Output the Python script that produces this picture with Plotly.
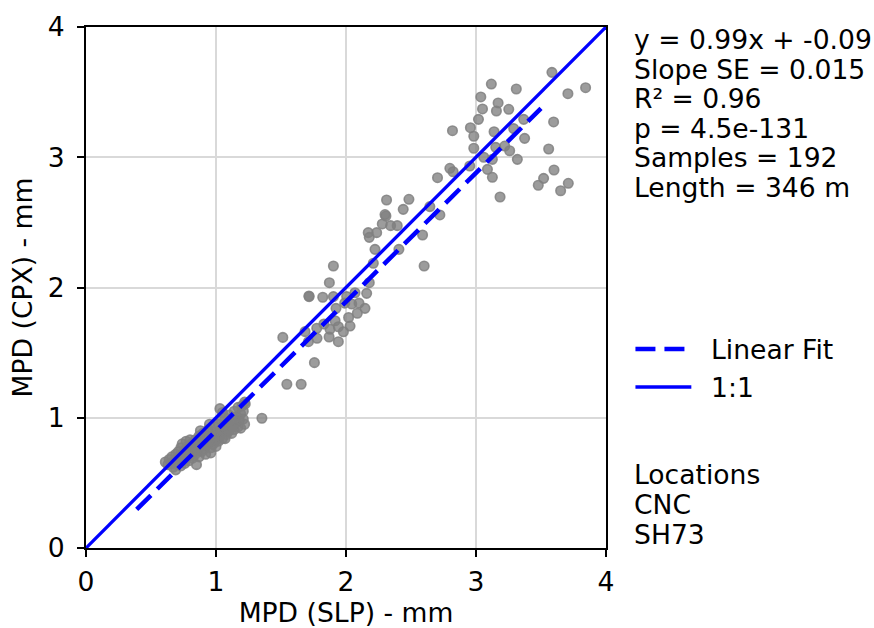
import plotly.graph_objects as go

# ---------------- data ----------------
slp_upper = [3.584, 3.118, 3.310, 3.843, 3.707, 3.037, 3.170, 3.050, 3.157, 3.252,
             3.019, 3.367, 3.597, 2.819, 2.957, 2.983, 3.139, 3.374, 2.983, 3.152,
             3.221, 3.259, 3.559, 3.126, 3.318, 2.952, 2.799, 2.824, 3.088, 2.704,
             3.126, 3.600, 3.520, 3.479, 3.710, 3.651, 2.484, 3.185, 2.440, 2.645,
             3.29, 3.06]
cpx_upper = [3.652, 3.562, 3.524, 3.534, 3.488, 3.463, 3.417, 3.371, 3.355, 3.368,
             3.291, 3.291, 3.271, 3.204, 3.227, 3.161, 3.196, 3.145, 3.069, 3.076,
             3.086, 3.050, 3.063, 2.984, 2.984, 2.933, 2.915, 2.889, 2.907, 2.843,
             2.846, 2.902, 2.838, 2.785, 2.800, 2.743, 2.677, 2.695, 2.600, 2.621,
             3.22, 3.00]

slp_mid = [2.312, 2.307, 2.279, 2.343, 2.394, 2.722, 2.171, 2.236, 2.179, 2.589,
           2.223, 2.407, 1.903, 2.601, 2.210, 1.872, 2.179, 1.716, 1.821, 1.903,
           2.069, 2.159, 2.044, 1.923, 2.146, 2.087, 1.916, 2.031, 1.941, 1.775,
           1.514, 1.777, 1.711, 1.941, 1.545, 1.655, 1.757, 1.877, 1.685, 1.353,
           1.225, 2.30, 1.715, 2.005, 1.99, 1.87, 1.98, 2.02, 1.83, 2.10]
cpx_mid = [2.672, 2.549, 2.488, 2.475, 2.475, 2.557, 2.421, 2.421, 2.385, 2.403,
           2.293, 2.293, 2.165, 2.165, 2.186, 2.037, 2.037, 1.930, 1.925, 1.930,
           1.960, 1.955, 1.873, 1.840, 1.840, 1.802, 1.745, 1.704, 1.699, 1.687,
           1.617, 1.610, 1.584, 1.584, 1.257, 1.257, 1.423, 1.679, 1.661, 0.996,
           1.106, 2.56, 1.935, 1.93, 1.88, 1.62, 1.66, 1.77, 1.72, 1.88]

slp_low = [0.61, 0.63, 0.64, 0.66, 0.66, 0.67, 0.68, 0.69, 0.70, 0.70,
           0.71, 0.72, 0.72, 0.73, 0.73, 0.74, 0.74, 0.75, 0.76, 0.76,
           0.77, 0.77, 0.78, 0.78, 0.79, 0.80, 0.80, 0.81, 0.82, 0.82,
           0.83, 0.84, 0.84, 0.85, 0.85, 0.86, 0.87, 0.87, 0.88, 0.88,
           0.89, 0.90, 0.90, 0.91, 0.92, 0.92, 0.93, 0.94, 0.94, 0.95,
           0.96, 0.96, 0.97, 0.97, 0.98, 0.99, 0.99, 1.00, 1.00, 1.01,
           1.02, 1.02, 1.03, 1.04, 1.04, 1.05, 1.05, 1.06, 1.06, 1.07,
           1.08, 1.08, 1.09, 1.10, 1.10, 1.11, 1.12, 1.12, 1.13, 1.14,
           1.15, 1.16, 1.17, 1.17, 1.18, 1.19, 1.19, 1.20, 1.21, 1.21,
           1.22, 1.22, 1.03, 0.95, 0.88, 0.80, 0.75, 0.69, 1.14, 1.07]
cpx_low = [0.66, 0.64, 0.68, 0.65, 0.70, 0.62, 0.67, 0.72, 0.64, 0.69,
           0.74, 0.66, 0.71, 0.63, 0.77, 0.68, 0.80, 0.72, 0.65, 0.75,
           0.69, 0.82, 0.73, 0.78, 0.67, 0.71, 0.76, 0.80, 0.74, 0.69,
           0.77, 0.72, 0.83, 0.64, 0.79, 0.75, 0.70, 0.86, 0.78, 0.82,
           0.74, 0.80, 0.88, 0.76, 0.83, 0.72, 0.79, 0.86, 0.91, 0.81,
           0.73, 0.77, 0.84, 0.89, 0.80, 0.86, 0.93, 0.78, 0.83, 0.88,
           0.95, 0.82, 0.86, 0.91, 0.98, 0.84, 1.04, 0.89, 0.94, 1.00,
           0.87, 0.92, 0.97, 0.90, 1.02, 0.94, 0.99, 0.88, 0.93, 1.05,
           0.96, 1.01, 0.93, 1.08, 0.98, 1.03, 0.92, 1.09, 0.99, 1.05,
           0.95, 1.12, 1.07, 0.95, 0.90, 0.83, 0.68, 0.60, 0.91, 0.84]

slp = slp_upper + slp_mid + slp_low
cpx = cpx_upper + cpx_mid + cpx_low

fit_slope = 0.99
fit_intercept = -0.09
fit_x = [0.39, 3.50]
fit_y = [fit_slope * v + fit_intercept for v in fit_x]

one_to_one = [0, 4]

tick_vals = [0, 1, 2, 3, 4]
tick_text = ["0", "1", "2", "3", "4"]

stats_lines = ["y = 0.99x + -0.09", "Slope SE = 0.015", "R² = 0.96",
               "p = 4.5e-131", "Samples = 192", "Length = 346 m"]
legend_labels = ["Linear Fit", "1:1"]
location_lines = ["Locations", "CNC", "SH73"]

# ---------------- figure ----------------
FONT = "DejaVu Sans"
FS = 26.6
W, H = 874, 628
L, R, T, B = 85.5, 267.5, 27, 80
PW = W - L - R
PH = H - T - B

def px_x(p):
    return (p - L) / PW

def px_y(p):
    return (H - B - p) / PH

fig = go.Figure()
fig.add_trace(go.Scatter(
    x=slp, y=cpx, mode="markers", showlegend=False,
    marker=dict(size=9.5, color="rgba(128,128,128,0.78)",
                line=dict(width=1.6, color="rgba(128,128,128,0.85)")),
    hoverinfo="skip"))
fig.add_trace(go.Scatter(
    x=fit_x, y=fit_y, mode="lines", showlegend=False,
    line=dict(color="#0000ff", width=4.5, dash="20px,9px")))
fig.add_trace(go.Scatter(
    x=one_to_one, y=one_to_one, mode="lines", showlegend=False,
    line=dict(color="#0000ff", width=3.3)))

axis_common = dict(
    range=[0, 4], tickvals=tick_vals, ticktext=tick_text,
    showline=True, linecolor="black", linewidth=1.8, mirror=True,
    ticks="outside", ticklen=7, tickwidth=1.8, tickcolor="black",
    showgrid=True, gridcolor="#d9d9d9", gridwidth=1.5,
    zeroline=False, tickfont=dict(family=FONT, size=FS, color="black"),
    automargin=False, fixedrange=True,
)
fig.update_xaxes(**axis_common, ticklabelstandoff=2,
                 title=dict(text="MPD (SLP) - mm", standoff=6,
                            font=dict(family=FONT, size=FS, color="black")))
fig.update_yaxes(**axis_common, ticklabelstandoff=7,
                 title=dict(text="MPD (CPX) - mm", standoff=8,
                            font=dict(family=FONT, size=FS, color="black")))

annotations = []
x_text = px_x(633)
pitch = 29.5
for i, line in enumerate(stats_lines):
    annotations.append(dict(
        xref="paper", yref="paper", x=x_text, y=px_y(39.5 + i * pitch),
        text=line, showarrow=False, xanchor="left", yanchor="middle",
        font=dict(family=FONT, size=FS, color="black")))

legend_y = [349, 387]
shapes = []
for i, lab in enumerate(legend_labels):
    annotations.append(dict(
        xref="paper", yref="paper", x=px_x(710), y=px_y(legend_y[i]),
        text=lab, showarrow=False, xanchor="left", yanchor="middle",
        font=dict(family=FONT, size=FS, color="black")))
    shapes.append(dict(
        type="line", xref="paper", yref="paper",
        x0=px_x(636), x1=px_x(692), y0=px_y(legend_y[i]), y1=px_y(legend_y[i]),
        line=dict(color="#0000ff", width=4.5 if i == 0 else 3.3,
                  dash="20px,9px" if i == 0 else "solid")))

for i, line in enumerate(location_lines):
    annotations.append(dict(
        xref="paper", yref="paper", x=x_text, y=px_y(474 + i * 30),
        text=line, showarrow=False, xanchor="left", yanchor="middle",
        font=dict(family=FONT, size=FS, color="black")))

fig.update_layout(
    width=W, height=H,
    margin=dict(l=L, r=R, t=T, b=B, pad=0),
    paper_bgcolor="white", plot_bgcolor="white",
    annotations=annotations, shapes=shapes,
    font=dict(family=FONT, size=FS, color="black"),
)

fig.write_html("out.html")
